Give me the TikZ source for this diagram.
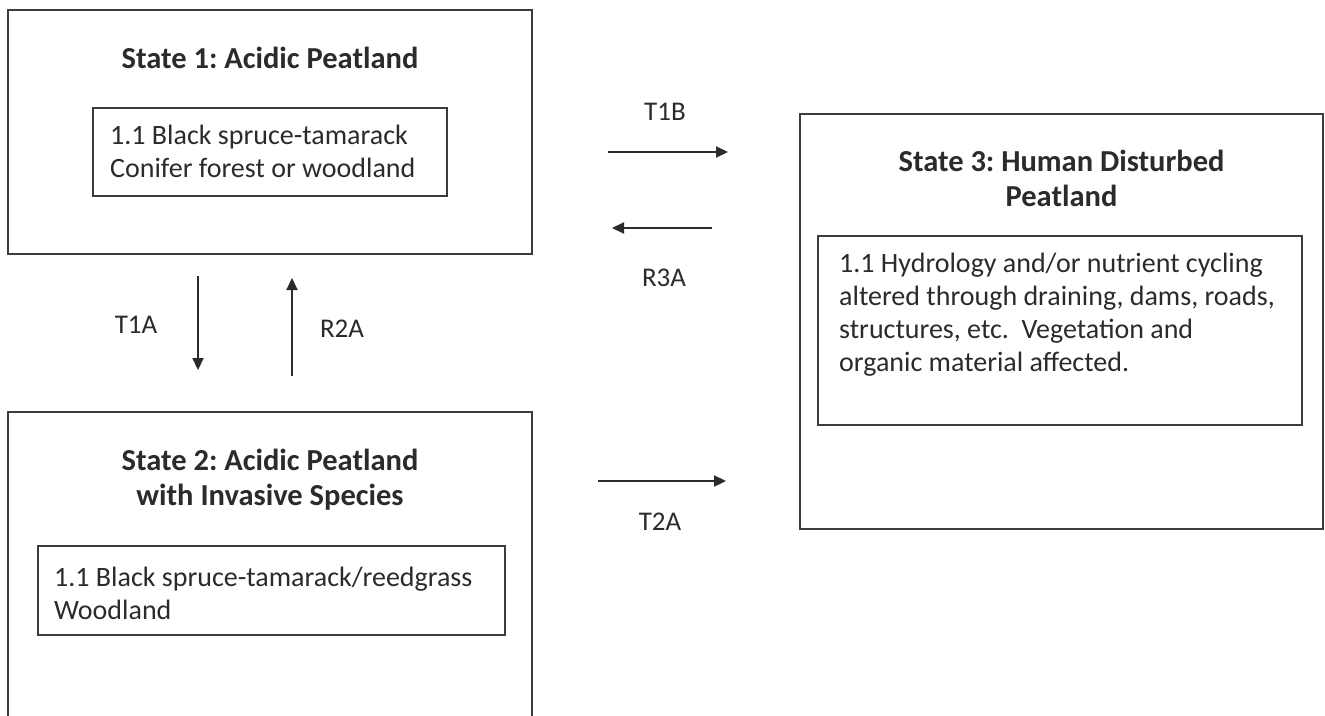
\documentclass[tikz,border=0pt]{standalone}
\usepackage{fontspec}
\setmainfont{Carlito}
\usetikzlibrary{positioning,arrows.meta}
\definecolor{ink}{HTML}{2B2B2B}
\definecolor{edge}{HTML}{3C3C3C}
\frenchspacing
\tikzset{
    statebox/.style={draw=edge, line width=2pt, inner sep=0pt},
    phasebox/.style={draw=edge, line width=2pt, inner sep=0pt},
    heading/.style={font=\fontsize{30.5}{35}\selectfont\bfseries, text=ink, align=center, inner sep=0pt},
    body/.style={font=\fontsize{28}{33}\selectfont, text=ink, align=left, inner sep=0pt},
    trans/.style={draw=ink, line width=2.2pt, -{Triangle[length=12pt,width=11pt]}},
    tlabel/.style={font=\fontsize{27}{30}\selectfont, text=ink, inner sep=0pt},
}

\begin{document}
\begin{tikzpicture}[x=1pt,y=-1pt]
            \clip (0,0) rectangle (1325,715);
            \fill[white] (0,0) rectangle (1325,715);

                \node[statebox, minimum width=524pt, minimum height=244pt] (s1) at (270,132) {};
                \node[statebox, minimum width=524pt, minimum height=328pt] (s2) at (270,576) {};
                \node[statebox, minimum width=523pt, minimum height=415pt] (s3) at (1061.5,321.5) {};

                \node[phasebox, minimum width=354pt, minimum height=88pt] (p1) at (270,152) {};
                \node[phasebox, minimum width=467pt, minimum height=89pt] (p2) at (271.5,590.5) {};
                \node[phasebox, minimum width=484pt, minimum height=189pt] (p3) at (1060,330.5) {};

                \node[heading, below=38pt of s1.north, anchor=north] (h1) {State 1: Acidic Peatland};
                \node[heading, below=38pt of s2.north, anchor=north] (h2) {State 2: Acidic Peatland\\with Invasive Species};
                \node[heading, below=37pt of s3.north, anchor=north] (h3) {State 3: Human Disturbed\\Peatland};

                \node[body, below right=18pt and 18pt of p1.north west, anchor=north west] (b1)
                    {1.1 Black spruce-tamarack\\Conifer forest or woodland};
                \node[body, below right=22pt and 17pt of p2.north west, anchor=north west] (b2)
                    {1.1 Black spruce-tamarack/reedgrass\\Woodland};
                \node[body, below right=18pt and 22pt of p3.north west, anchor=north west] (b3)
                    {1.1 Hydrology and/or nutrient cycling\\altered through draining, dams, roads,\\structures, etc.\ \ Vegetation and\\organic material affected.};

                \coordinate (t1a0) at (198,276);
                \coordinate[below=94pt of t1a0] (t1a1);
                \coordinate (r2a0) at (292,376);
                \coordinate[above=98pt of r2a0] (r2a1);
                \coordinate (t1b0) at (608,152);
                \coordinate[right=120pt of t1b0] (t1b1);
                \coordinate (r3a0) at (712,228);
                \coordinate[left=100pt of r3a0] (r3a1);
                \coordinate (t2a0) at (598,481);
                \coordinate[right=128pt of t2a0] (t2a1);

                \draw[trans] (t1a0) -- (t1a1);
                \draw[trans] (r2a0) -- (r2a1);
                \draw[trans] (t1b0) -- (t1b1);
                \draw[trans] (r3a0) -- (r3a1);
                \draw[trans] (t2a0) -- (t2a1);

                \node[tlabel] (lt1a) at (136,325) {T1A};
                \node[tlabel] (lr2a) at (342,329) {R2A};
                \node[tlabel] (lt1b) at (665,112) {T1B};
                \node[tlabel] (lr3a) at (664,278) {R3A};
                \node[tlabel] (lt2a) at (660,522) {T2A};
\end{tikzpicture}
\end{document}
